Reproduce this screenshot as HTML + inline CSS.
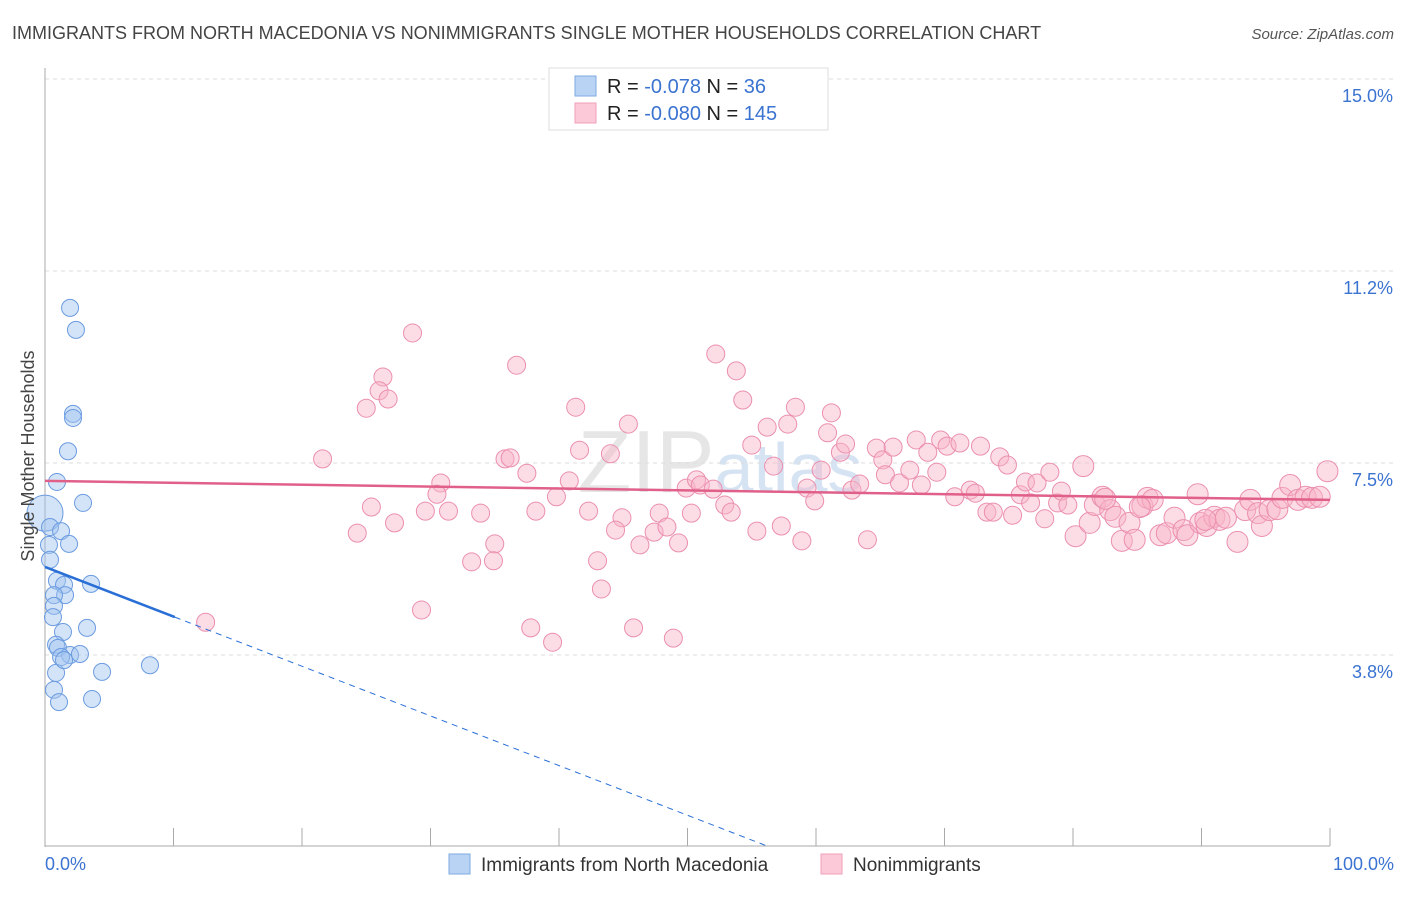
<!DOCTYPE html>
<html><head><meta charset="utf-8"><style>
body{margin:0;background:#fff;font-family:"Liberation Sans",sans-serif;}
svg text{font-family:"Liberation Sans",sans-serif;}
</style></head><body>
<svg id="chart" width="1406" height="892" xmlns="http://www.w3.org/2000/svg">
<text x="12" y="39" font-size="18" fill="#444">IMMIGRANTS FROM NORTH MACEDONIA VS NONIMMIGRANTS SINGLE MOTHER HOUSEHOLDS CORRELATION CHART</text>
<text x="1394" y="39" font-size="15" fill="#555" text-anchor="end" font-style="italic">Source: ZipAtlas.com</text>
<text x="720" y="492" font-size="88" fill="#e6e6e6" text-anchor="middle" font-family="Liberation Serif">ZIP<tspan fill="#d6e3f3" font-family="Liberation Sans" font-size="70">atlas</tspan></text>
<g id="grid"></g>
<g id="axes"></g>
<g id="pink"></g>
<g id="blue"></g>
<g id="trends"></g>
<text transform="translate(34,456) rotate(-90)" font-size="18" fill="#444" text-anchor="middle">Single Mother Households</text>
<g>
<rect x="549" y="68" width="279" height="62" fill="#fff" stroke="#ddd"/>
<rect x="575" y="76" width="21" height="20" fill="#b9d3f5" stroke="#7fa9e0"/>
<rect x="575" y="103" width="21" height="20" fill="#fbc9d8" stroke="#f0a0ba"/>
<text x="607" y="93" font-size="20" fill="#222">R = <tspan fill="#3b73d1">-0.078</tspan>   N = <tspan fill="#3b73d1">  36</tspan></text>
<text x="607" y="120" font-size="20" fill="#222">R = <tspan fill="#3b73d1">-0.080</tspan>   N = <tspan fill="#3b73d1">145</tspan></text>
</g>
<g>
<rect x="449" y="854" width="21" height="20" fill="#b9d3f5" stroke="#7fa9e0"/>
<text x="481" y="871" font-size="19" fill="#333">Immigrants from North Macedonia</text>
<rect x="821" y="854" width="21" height="20" fill="#fbc9d8" stroke="#f0a0ba"/>
<text x="853" y="871" font-size="19" fill="#333">Nonimmigrants</text>
</g>
</svg>
<script>
const yTicks=[3.75,7.5,11.25,15];
const yTickLabels=["3.8%","7.5%","11.2%","15.0%"];
const xTickLabels=["0.0%","100.0%"];
const blueX=[1.95,2.41,2.18,2.18,1.79,0.93,2.96,0,0.39,1.25,1.87,0.31,0.39,0.93,1.48,3.58,1.56,0.70,0.70,0.62,3.27,1.40,0.86,1.01,1.95,1.25,0.86,4.44,8.17,0.70,1.09,3.66,2.72,1.48];
const blueY=[10.53,10.10,8.46,8.38,7.73,7.13,6.72,6.52,6.25,6.17,5.92,5.90,5.61,5.20,5.12,5.14,4.92,4.92,4.71,4.49,4.28,4.20,3.95,3.89,3.75,3.71,3.40,3.42,3.55,3.07,2.83,2.89,3.77,3.65];
const pinkX=[12.5,28.6,36.7,26.3,26.0,26.7,25.0,21.6,25.4,24.3,27.2,29.3,30.8,30.5,29.6,31.4,33.9,33.2,35.0,34.9,35.8,36.2,37.5,38.2,37.8,39.5,40.8,39.8,41.3,41.6,44.0,45.4,42.3,43.0,43.3,44.9,44.4,45.8,47.4,47.8,48.4,49.3,48.9,49.9,50.3,50.7,51.0,52.0,52.2,53.8,54.3,52.9,53.4,55.0,55.4,56.2,56.7,57.3,57.8,58.4,58.9,59.3,59.9,60.4,60.9,61.2,61.9,62.3,62.8,63.4,64.0,64.7,65.2,65.4,66.0,66.5,67.3,67.8,68.2,68.7,69.4,69.7,70.2,70.8,71.2,72.0,72.4,72.8,73.3,73.8,74.3,74.9,75.3,75.9,76.3,76.7,77.2,77.8,78.2,78.8,79.1,79.6,80.2,80.8,81.3,81.7,82.3,82.9,83.3,83.8,84.4,84.8,85.4,85.8,86.2,86.8,87.3,87.9,88.6,88.9,89.7,89.9,90.4,91.0,91.4,91.9,92.8,93.4,93.8,94.4,94.7,95.3,95.9,96.3,96.9,97.5,98.1,98.6,99.2,99.8,82.5,85.2,90.3,46.3];
const pinkY=[4.39,10.04,9.41,9.18,8.91,8.75,8.57,7.58,6.64,6.13,6.33,4.63,7.11,6.89,6.56,6.56,6.52,5.57,5.92,5.59,7.58,7.60,7.30,6.56,4.28,4.00,7.15,6.84,8.59,7.75,7.68,8.26,6.56,5.59,5.04,6.43,6.19,4.28,6.15,6.52,6.25,5.94,4.08,7.01,6.52,7.17,7.07,6.99,9.63,9.30,8.73,6.68,6.54,7.85,6.17,8.20,7.44,6.27,8.26,8.59,5.98,7.01,6.76,7.36,8.09,8.48,7.71,7.87,6.97,7.09,6.00,7.79,7.56,7.27,7.81,7.11,7.36,7.95,7.07,7.71,7.32,7.95,7.83,6.84,7.89,6.97,6.91,7.83,6.54,6.54,7.62,7.46,6.48,6.88,7.13,6.72,7.11,6.41,7.32,6.72,6.95,6.68,6.07,7.44,6.33,6.68,6.84,6.58,6.45,5.98,6.33,6.00,6.66,6.82,6.78,6.09,6.13,6.43,6.19,6.09,6.89,6.33,6.27,6.45,6.39,6.43,5.96,6.58,6.78,6.52,6.27,6.58,6.60,6.82,7.07,6.78,6.84,6.82,6.84,7.34,6.80,6.64,6.39,5.90];
const blueTrend=[5.47,-0.097];
const pinkTrend=[7.15,-0.0037];
const NS="http://www.w3.org/2000/svg";
const xs=v=>45+v*12.85;
const ys=v=>847-v*51.2;
function mk(tag,parent,attrs){const e=document.createElementNS(NS,tag);for(const k in attrs)e.setAttribute(k,attrs[k]);parent.appendChild(e);return e;}
const grid=document.getElementById('grid'),axes=document.getElementById('axes');
yTicks.forEach((t,i)=>{
 const l=mk('line',grid,{x1:45,x2:1394,y1:ys(t),y2:ys(t),stroke:'#ddd','stroke-dasharray':'4,4'});
 
 
 const tx=mk('text',axes,{x:1393,y:ys(t)+23,'font-size':18,fill:'#3b73d1','text-anchor':'end'});
 tx.textContent=yTickLabels[i];
 
 
});
const ya=mk('line',axes,{x1:45,x2:45,y1:68,y2:847,stroke:'#aaa'});


const xa=mk('line',axes,{x1:45,x2:1330,y1:846,y2:846,stroke:'#aaa'});


for(let i=0;i<=10;i++){
 const tk=mk('line',axes,{x1:xs(i*10),x2:xs(i*10),y1:828,y2:846,stroke:'#aaa'});
 
 
}
[[0,'start',45],[100,'end',1394]].forEach((a,i)=>{
 const tx=mk('text',axes,{x:a[2],y:870,'font-size':18,fill:'#3b73d1','text-anchor':a[1]});
 tx.textContent=xTickLabels[i];
 
 
});
const pg=document.getElementById('pink');
pinkX.forEach((x,i)=>{
 const c=mk('circle',pg,{cx:xs(x),cy:ys(pinkY[i]),r:x>80?10.5:9,fill:'rgba(248,180,200,0.45)',stroke:'#eb8fae','stroke-width':1});
 
 
});
const bg=document.getElementById('blue');
blueX.forEach((x,i)=>{
 const c=mk('circle',bg,{cx:xs(x),cy:ys(blueY[i]),r:(x===0?18:8.5),fill:'rgba(160,195,240,0.45)',stroke:'#6b9be0','stroke-width':1});
 
 
});
const tg=document.getElementById('trends');
const pl=mk('line',tg,{x1:xs(0),y1:ys(pinkTrend[0]),x2:xs(100),y2:ys(pinkTrend[0]+pinkTrend[1]*100),stroke:'#e0608a','stroke-width':2.5});


const bl=mk('line',tg,{x1:xs(0),y1:ys(blueTrend[0]),x2:xs(10.1),y2:ys(blueTrend[0]+blueTrend[1]*10.1),stroke:'#2a6fd6','stroke-width':2.5});


const xEnd=-blueTrend[0]/blueTrend[1];
const bd=mk('line',tg,{x1:xs(10.1),y1:ys(blueTrend[0]+blueTrend[1]*10.1),x2:xs(xEnd),y2:ys(0),stroke:'#2a6fd6','stroke-width':1,'stroke-dasharray':'6,5'});


</script>
</body></html>
